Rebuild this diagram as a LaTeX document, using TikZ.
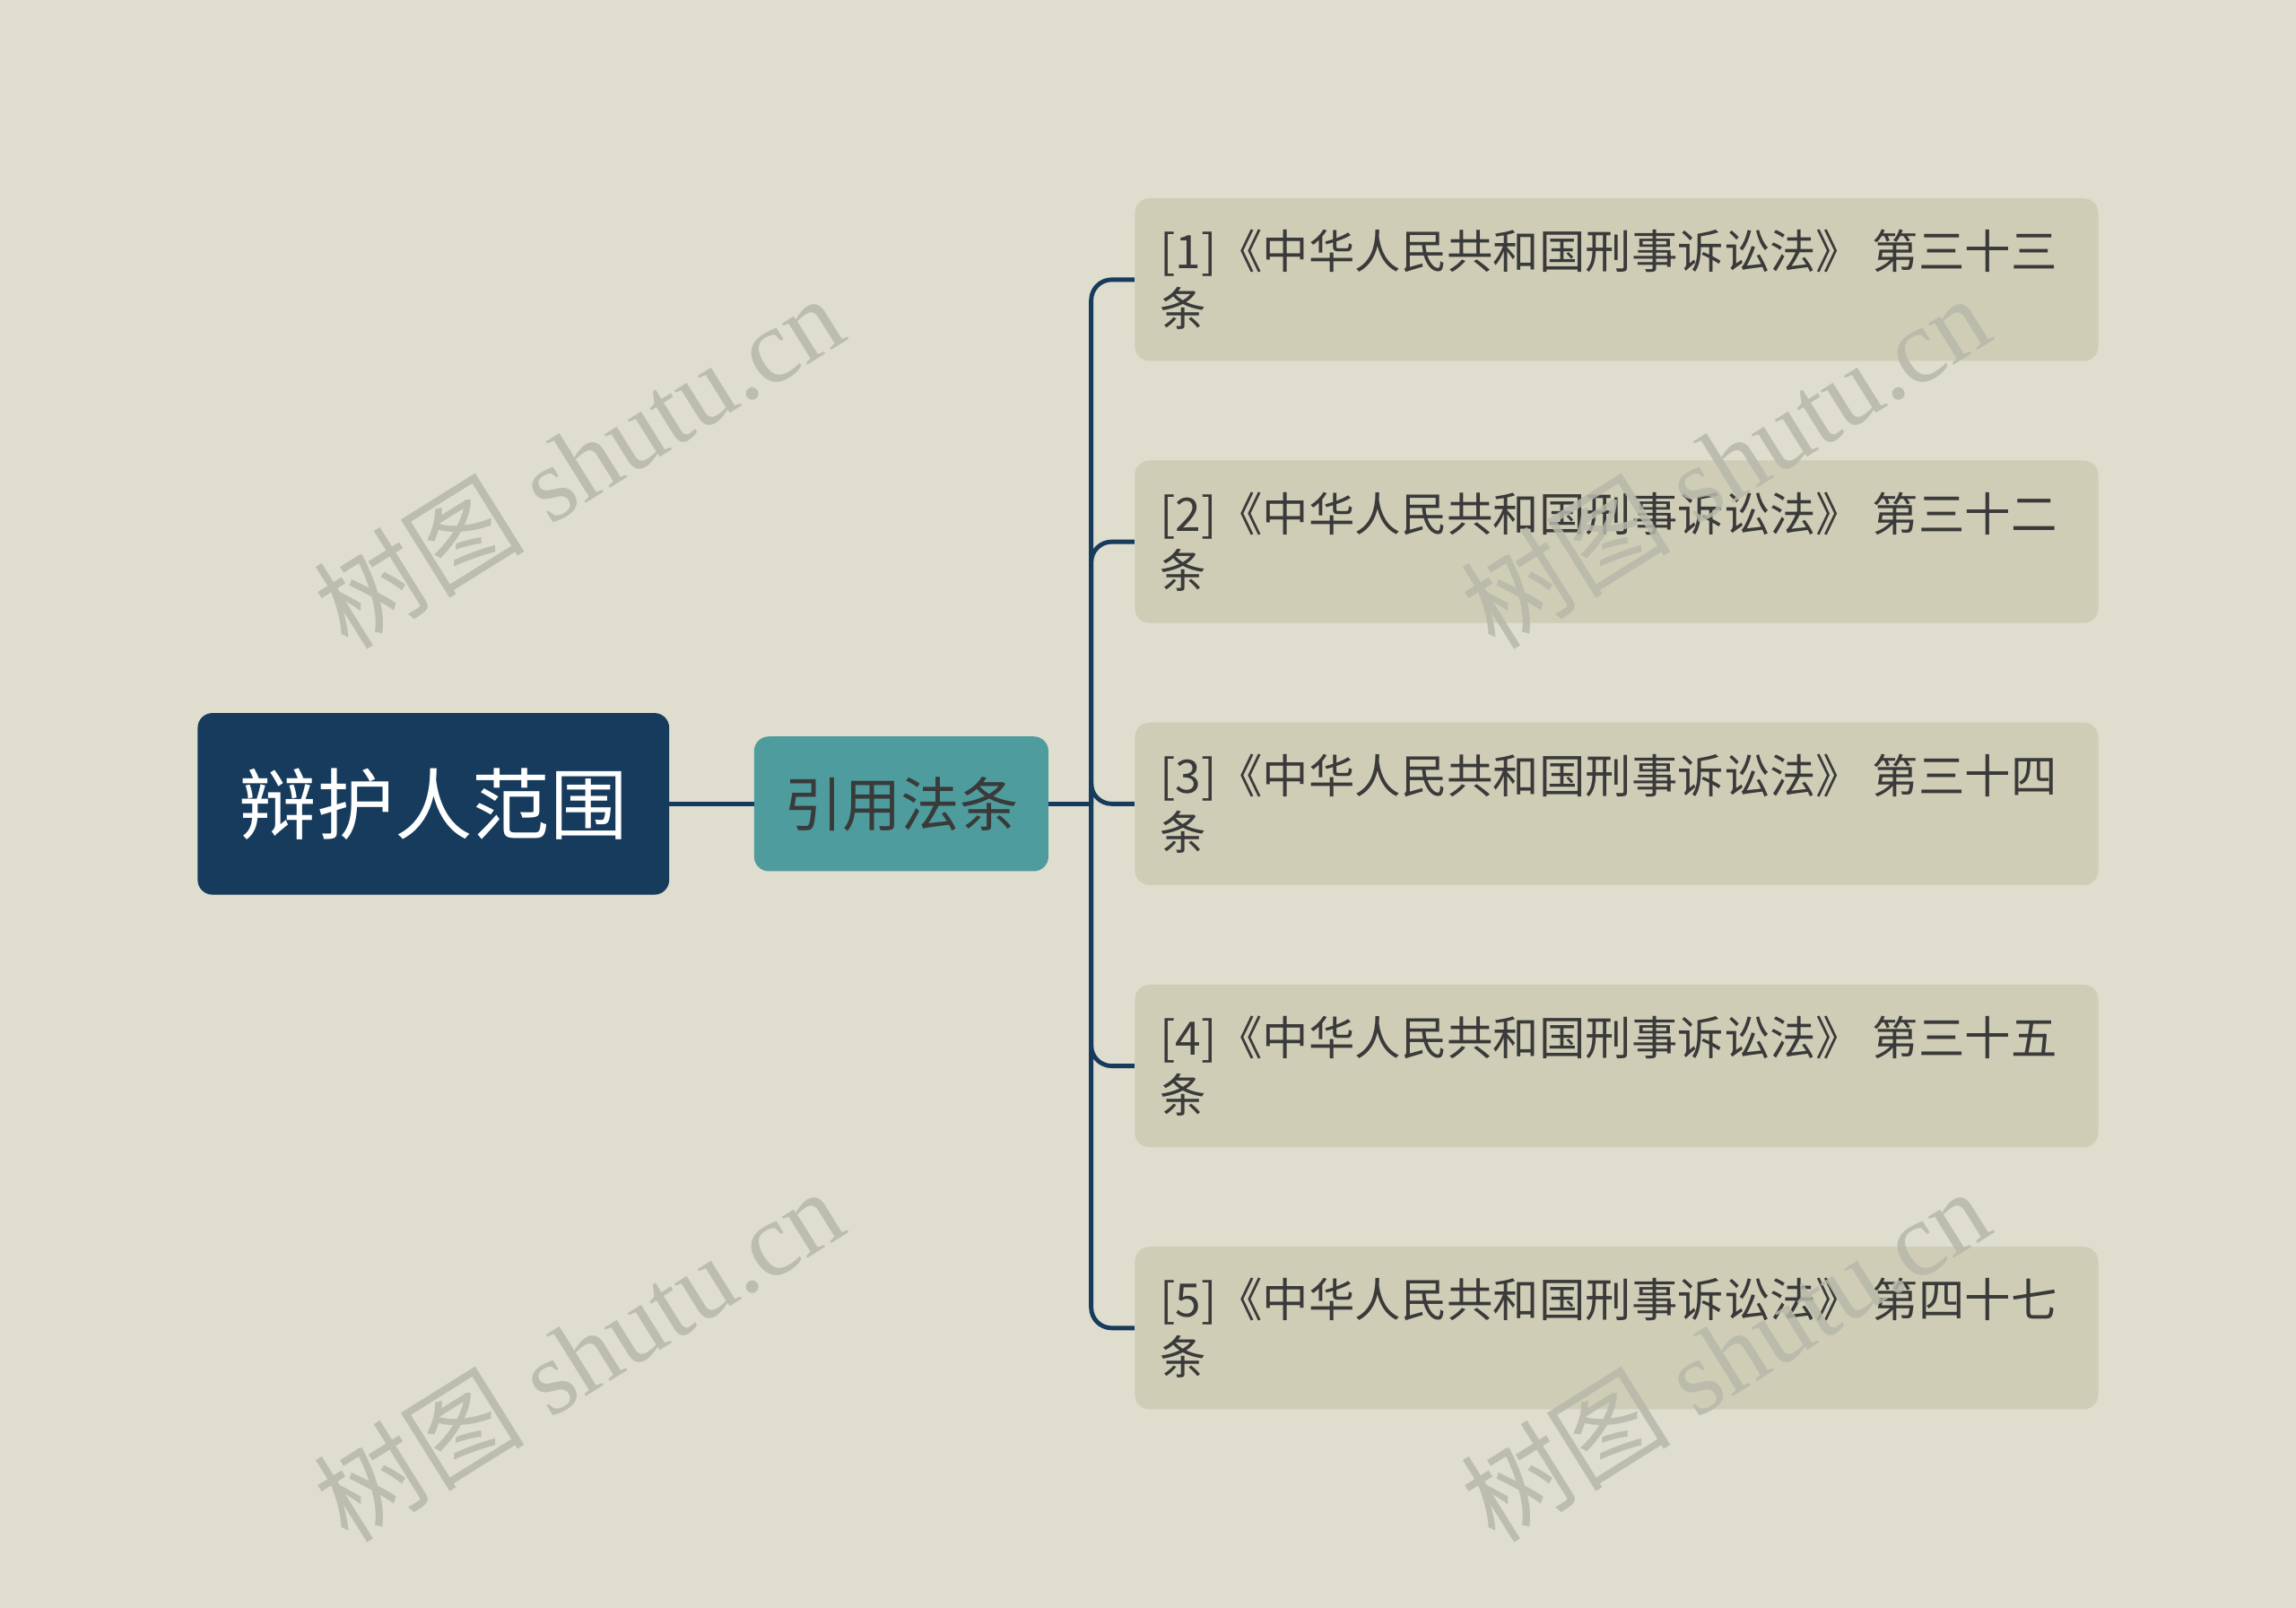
\documentclass[tikz,border=0pt]{standalone}
\usepackage{fontspec}
\setmainfont{Liberation Serif}
\newfontfamily\cjk{Noto Sans CJK SC}
\usepackage{tikz}
\definecolor{bgcol}{HTML}{DFDDCE}
\definecolor{rootcol}{HTML}{163B5C}
\definecolor{citecol}{HTML}{4E9C9D}
\definecolor{lawcol}{HTML}{CFCDB6}
\definecolor{inkcol}{HTML}{3A3A3A}
\definecolor{wmcol}{HTML}{B7B8AA}

\begin{document}
\begin{tikzpicture}[x=1pt,y=-1pt,
	rootbox/.style={fill=rootcol, rounded corners=10pt, minimum width=322pt, minimum height=124pt, inner sep=0pt, text=white, font=\cjk\fontsize{53}{60}\selectfont},
	citebox/.style={fill=citecol, rounded corners=10pt, minimum width=201pt, minimum height=92pt, inner sep=0pt, text=inkcol, font=\cjk\fontsize{40}{46}\selectfont},
	lawbox/.style={fill=lawcol, rounded corners=10pt, minimum width=658pt, minimum height=111pt, text width=624pt, inner xsep=17pt, inner ysep=0pt, align=left, text=inkcol, font=\cjk\fontsize{31.5}{39}\selectfont},
	link/.style={draw=rootcol, line width=3pt},
	stamp/.style={text=wmcol, opacity=0.85, rotate=32, font=\fontsize{72}{80}\selectfont}]
	%Canvas, in pixels of a 1568 x 1098 sheet
	\fill[bgcol] (0,0) rectangle (1568,1098);
	\useasboundingbox (0,0) rectangle (1568,1098);
	
	%Root and the one branch
	\node[rootbox] (root) at (296,549) {辩护人范围};
	\node[citebox] (cite) at (615.5,549) {引用法条};
	
	%The five articles, 179 apart
	\foreach \i/\art in {1/第三十三, 2/第三十二, 3/第三十四, 4/第三十五, 5/第四十七} {
		\pgfmathsetmacro{\yy}{191+179*(\i-1)}
		\node[lawbox] (law\i) at (1104,\yy) {[\i]《中华人民共和国刑事诉讼法》\hspace{7pt}\art\\条};
	}
	
	%Connectors
	\draw[link] (root.east) -- (cite.west);
	\draw[link] (cite.east) -- ++(29,0) coordinate (hub);
	\foreach \i in {1,...,5}
		\draw[link, rounded corners=14pt] (hub) |- (law\i.west);
	
	%Watermarks
	\foreach \wx/\wy [count=\k] in {395/315, 1178/315, 395/925, 1178/925}
		\node[stamp] (wm\k) at (\wx,\wy) {{\cjk 树图} shutu.cn};
\end{tikzpicture}
\end{document}
